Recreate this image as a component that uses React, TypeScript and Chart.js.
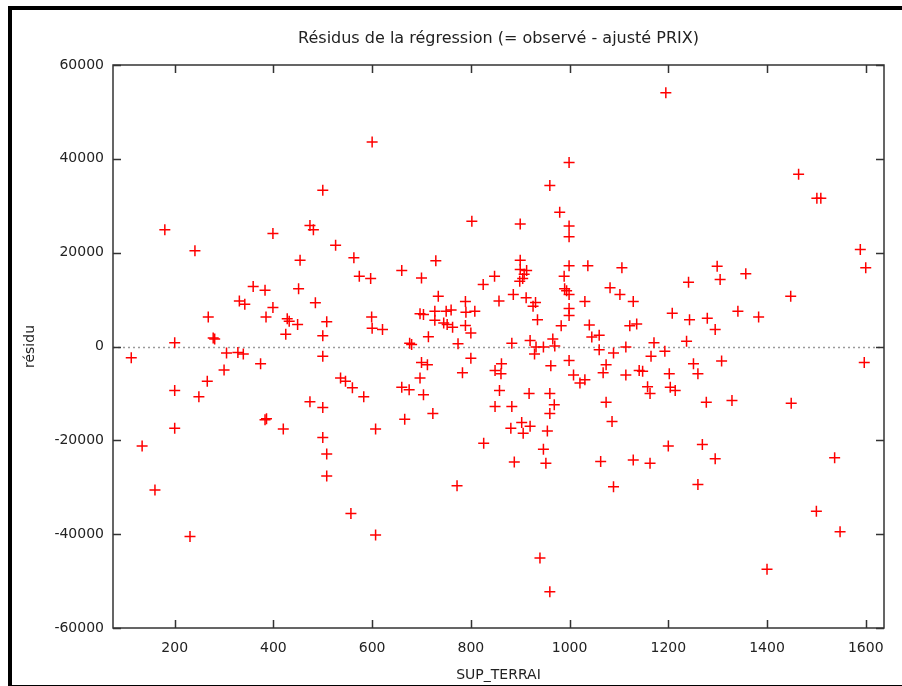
import { useEffect, useRef } from "react";
import { Chart, registerables } from "chart.js";

Chart.register(...registerables);

const chartTitle = "Résidus de la régression (= observé - ajusté PRIX)";
const xTitle = "SUP_TERRAI";
const yTitle = "résidu";

const xTicks = [200, 400, 600, 800, 1000, 1200, 1400, 1600];
const yTicks = [-60000, -40000, -20000, 0, 20000, 40000, 60000];

const supTerrai = [
  600, 500, 180, 474, 481, 399, 241, 526, 454, 563, 574, 597, 359, 383, 451, 331, 342, 485, 399, 268,
  385, 428, 432, 449, 508, 599, 600, 425, 500, 278, 281, 200,
  999, 960, 980, 999, 999, 802, 900, 729, 660, 700, 900, 900, 913, 908, 905, 899, 848, 825,
  999, 1037, 1106, 989, 990, 994, 999, 1082, 1102, 1129, 1031, 734, 789, 886, 912, 931, 926, 857,
  697, 704, 727, 727, 750, 760, 745, 752, 763, 790, 808, 789, 800, 714, 676, 680, 774, 883, 920,
  935, 983, 999, 999, 1040, 1045, 1060, 966, 1122, 1136, 621, 932, 947, 970, 1114, 1060,
  1195, 1464, 1501, 1509, 1589, 1600, 1299, 1305, 1357, 1241, 1448, 1208, 1243, 1279, 1295, 1341,
  1383, 1171, 1237,
  112, 200, 200, 134, 160, 231, 249, 266, 300, 305, 328, 339, 374, 383, 386, 420, 474, 500, 500,
  500, 508, 508, 536, 546, 560, 583, 557, 607, 607,
  929, 1089, 700, 712, 697, 660, 675, 704, 666, 723, 800, 783, 849, 862, 861, 858, 849, 883, 918,
  960, 969, 960, 881, 903, 920, 906, 955, 947, 952, 888, 826, 772, 940, 960, 962, 999, 1008, 1021,
  1031, 1074, 1068, 1114, 1074, 1086, 1063, 1129, 1089, 1141,
  1193, 1165, 1148, 1202, 1251, 1260, 1308, 1158, 1163, 1204, 1214, 1277, 1329, 1449, 1597, 1163,
  1200, 1269, 1295, 1260, 1537, 1500, 1548, 1400,
];

const residu = [
  43600, 33300, 24900, 25800, 24900, 24100, 20400, 21600, 18400, 18900, 15000, 14500, 12800, 12000,
  12300, 9700, 9000, 9300, 8300, 6300,
  6300, 5900, 5400, 4700, 5300, 6300, 3900, 2600, 2300, 1800, 1600, 800,
  39200, 34300, 28600, 25700, 23400, 26700, 26100, 18300, 16200, 14600, 18400, 16400, 16200, 15400,
  14500, 13900, 15000, 13200,
  17200, 17200, 16800, 15000, 12300, 11900, 11100, 12500, 11100, 9600, 9600, 10700, 9600, 11100,
  10400, 9400, 8600, 9700,
  7000, 6800, 7500, 5600, 7500, 7800, 5000, 4700, 4100, 7300, 7500, 4500, 2900, 2100, 700, 400,
  600, 700, 1300,
  5700, 4400, 8100, 6600, 4600, 2000, 2400, 1600, 4400, 4800, 3600, -100, -100, 100, -100, -700,
  54100, 36700, 31600, 31600, 20700, 16800, 17100, 14300, 15500, 13700, 10700, 7100, 5700, 6000,
  3600, 7500,
  6300, 800, 1100,
  -2400, -9400, -17400, -21200, -30600, -40500, -10700, -7400, -5000, -1400, -1300, -1600, -3700,
  -15600, -15400, -17600, -11800, -13000, -2100,
  -19400, -22900, -27600, -6700, -7400, -8800, -10700, -35600, -40200, -17600,
  -1600, -1400, -3400, -3900, -6700, -8700, -9200, -10300, -15500, -14300, -2500, -5600, -5100,
  -3700, -5800, -9400, -12800, -12800, -10000,
  -10000, -12400, -14300, -17400, -16200, -17000, -18500, -18000, -21900, -24900, -24600, -20600,
  -29700, -45100, -52300, -4100, -3000, -6100, -7800,
  -7100, -3900, -5600, -6100, -11900, -16000, -24500, -24200, -29900, -5100,
  -1000, -2100, -5300, -5800, -3700, -5800, -3100, -8600, -10000, -8700, -9400, -11900, -11500,
  -12100, -3400, -24900,
  -21200, -20900, -23900, -29400, -23700, -35100, -39500, -47500,
];

const FONT = "'DejaVu Sans', Verdana, sans-serif";
const TEXT_COLOR = "#222222";

const decorPlugin = {
  id: "decor",
  beforeDraw(chart: any) {
    const { ctx, width, height } = chart;
    ctx.save();
    ctx.fillStyle = "#ffffff";
    ctx.fillRect(0, 0, width, height);
    ctx.fillStyle = "#000000";
    ctx.fillRect(8, 6, width - 8, 4);
    ctx.fillRect(8, 6, 4, height - 6);
    ctx.fillRect(8, height - 1, width - 8, 1);
    ctx.restore();
  },
  beforeDatasetsDraw(chart: any) {
    const { ctx, chartArea: a, scales } = chart;
    const x = scales.x;
    const y = scales.y;
    ctx.save();
    const y0 = Math.round(y.getPixelForValue(0)) + 0.5;
    ctx.strokeStyle = "#9a9a9a";
    ctx.lineWidth = 1.5;
    ctx.setLineDash([2, 3]);
    ctx.beginPath();
    ctx.moveTo(a.left, y0);
    ctx.lineTo(a.right, y0);
    ctx.stroke();
    ctx.setLineDash([]);
    ctx.strokeStyle = "#333333";
    ctx.lineWidth = 1.5;
    ctx.strokeRect(a.left, a.top, a.right - a.left, a.bottom - a.top);
    ctx.beginPath();
    const tl = 8;
    for (const v of xTicks) {
      const px = Math.round(x.getPixelForValue(v)) + 0.5;
      ctx.moveTo(px, a.bottom);
      ctx.lineTo(px, a.bottom - tl);
      ctx.moveTo(px, a.top);
      ctx.lineTo(px, a.top + tl);
    }
    for (const v of yTicks) {
      const py = Math.round(y.getPixelForValue(v)) + 0.5;
      ctx.moveTo(a.left, py);
      ctx.lineTo(a.left + tl, py);
      ctx.moveTo(a.right, py);
      ctx.lineTo(a.right - tl, py);
    }
    ctx.stroke();
    ctx.restore();
  },
  afterDraw(chart: any) {
    const { ctx, chartArea: a } = chart;
    const cx = (a.left + a.right) / 2;
    const cy = (a.top + a.bottom) / 2;
    ctx.save();
    ctx.fillStyle = TEXT_COLOR;
    ctx.textAlign = "center";
    ctx.textBaseline = "middle";
    ctx.font = `16px ${FONT}`;
    ctx.fillText(chartTitle, cx, 39);
    ctx.font = `14px ${FONT}`;
    ctx.fillText(xTitle, cx, 675);
    ctx.translate(30, cy);
    ctx.rotate(-Math.PI / 2);
    ctx.fillText(yTitle, 0, 0);
    ctx.restore();
  },
};

export default function App() {
  const ref = useRef<HTMLCanvasElement | null>(null);

  useEffect(() => {
    if (!ref.current) return;
    const points = supTerrai.map((v, i) => ({ x: v, y: residu[i] }));
    const chart = new Chart(ref.current, {
      type: "scatter",
      data: {
        datasets: [
          {
            data: points,
            pointStyle: "cross",
            pointRadius: 5.5,
            pointHoverRadius: 5.5,
            pointBorderWidth: 1.5,
            pointBorderColor: "#ff0000",
            pointBackgroundColor: "#ff0000",
            showLine: false,
          },
        ],
      },
      options: {
        animation: false,
        responsive: false,
        events: [],
        layout: { padding: { top: 65, right: 18, left: 0, bottom: 0 } },
        plugins: {
          legend: { display: false },
          title: { display: false },
          tooltip: { enabled: false },
        },
        scales: {
          x: {
            type: "linear",
            min: 75,
            max: 1637,
            grid: { display: false, drawTicks: false },
            border: { display: false },
            afterBuildTicks: (s: any) => {
              s.ticks = xTicks.map((v) => ({ value: v }));
            },
            afterFit: (s: any) => {
              s.height = 58;
            },
            ticks: {
              autoSkip: false,
              maxRotation: 0,
              padding: 12,
              color: TEXT_COLOR,
              font: { family: FONT, size: 14 },
              callback: (v: any) => String(v),
            },
          },
          y: {
            type: "linear",
            min: -60000,
            max: 60000,
            grid: { display: false, drawTicks: false },
            border: { display: false },
            afterBuildTicks: (s: any) => {
              s.ticks = yTicks.map((v) => ({ value: v }));
            },
            afterFit: (s: any) => {
              s.width = 113;
            },
            ticks: {
              autoSkip: false,
              padding: 9,
              color: TEXT_COLOR,
              font: { family: FONT, size: 14 },
              callback: (v: any) => String(v),
            },
          },
        },
      },
      plugins: [decorPlugin],
    });
    return () => chart.destroy();
  }, []);

  return (
    <div style={{ position: "absolute", left: 0, top: 0, width: 902, height: 686 }}>
      <canvas ref={ref} width={902} height={686} style={{ display: "block" }} />
    </div>
  );
}
